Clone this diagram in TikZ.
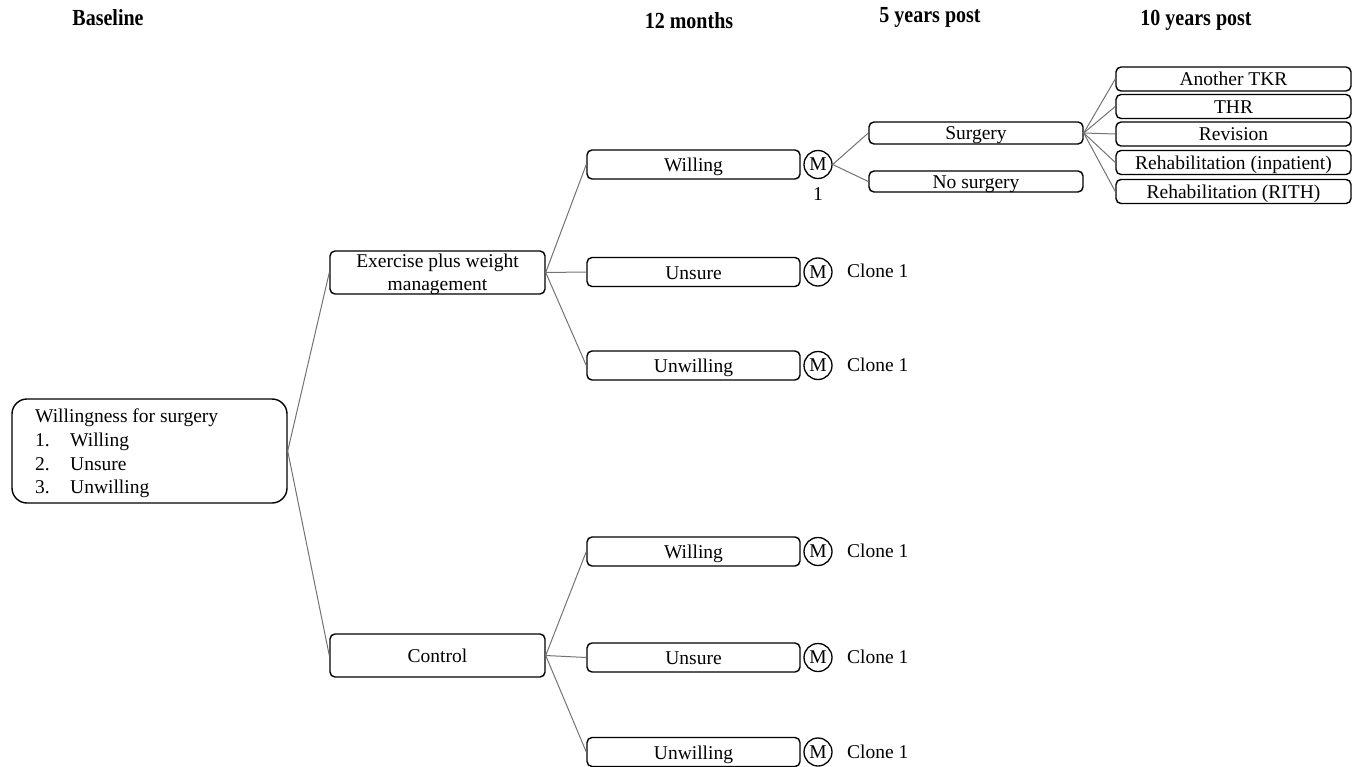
\documentclass[tikz,border=0pt]{standalone}
\usepackage{fontspec}
\setmainfont{Liberation Serif}
\begin{document}
\begin{tikzpicture}[x=1pt,y=-1pt,
  box/.style={draw=black,line width=1.4pt,rounded corners=5pt,inner sep=0pt,minimum width=213pt,minimum height=29pt,text height=15pt,text depth=1pt,font=\fontsize{19.5}{23}\selectfont},
  sbox/.style={box,minimum width=214pt,minimum height=22pt},
  tbox/.style={box,minimum width=235pt,minimum height=24pt},
  mnode/.style={draw=black,circle,line width=1.3pt,minimum size=28pt,inner sep=0pt,font=\fontsize{19.5}{23}\selectfont},
  lbl/.style={font=\fontsize{19.5}{23}\selectfont,inner sep=0pt},
  hdr/.style={font=\bfseries\fontsize{20}{24}\selectfont,inner sep=0pt},
  conn/.style={draw=black!55,line width=1pt}]
\useasboundingbox (0,0) rectangle (1364,767);
% headers
\node[hdr] (h0) at (108,18) {\scalebox{1}[1.15]{Baseline}};
\node[hdr] (h1) at (689,21) {\scalebox{1}[1.15]{12 months}};
\node[hdr] (h2) at (930,17) {\scalebox{1}[1.15]{5 years post}};
\node[hdr] (h3) at (1196,20) {\scalebox{1}[1.15]{10 years post}};
% root
\node[draw=black,line width=1.4pt,rounded corners=15pt,minimum width=275pt,minimum height=104pt,inner sep=0pt] (root) at (149.5,451) {};
\node[anchor=west,inner sep=0pt,align=left,font=\fontsize{19.5}{23.7}\selectfont] (roottext) at (35,453.5)
 {Willingness for surgery\\ \makebox[35pt][l]{1.}Willing\\ \makebox[35pt][l]{2.}Unsure\\ \makebox[35pt][l]{3.}Unwilling};
% arms
\node[box,minimum width=215pt,minimum height=43pt] (exer) at (437.5,272.5) {};
\node[inner sep=0pt,align=center,font=\fontsize{19.5}{22.5}\selectfont] (exertext) at (437.5,274.5) {Exercise plus weight\\management};
\node[box,minimum width=215pt,minimum height=43pt] (ctrl) at (437.5,655.5) {Control};
% 12 months
\node[box] (we) at (693.5,164.5) {Willing};
\node[box] (ue) at (693.5,272) {Unsure};
\node[box] (ne) at (693.5,365.5) {Unwilling};
\node[box] (wc) at (693.5,551.5) {Willing};
\node[box] (uc) at (693.5,657.5) {Unsure};
\node[box] (nc) at (693.5,752) {Unwilling};
% M nodes
\node[mnode] (m1) at (818,164.5) {M};
\node[mnode] (m2) at (818,272) {M};
\node[mnode] (m3) at (818,365.5) {M};
\node[mnode] (m4) at (818,551.5) {M};
\node[mnode] (m5) at (818,657.5) {M};
\node[mnode] (m6) at (818,752) {M};
\node[lbl] (one) at (818,194) {1};
\node[lbl,anchor=west] (c2) at (847,271) {Clone 1};
\node[lbl,anchor=west] (c3) at (847,365) {Clone 1};
\node[lbl,anchor=west] (c4) at (847,551) {Clone 1};
\node[lbl,anchor=west] (c5) at (847,657) {Clone 1};
\node[lbl,anchor=west] (c6) at (847,752) {Clone 1};
% 5 years
\node[sbox] (surg) at (976,133) {Surgery};
\node[sbox,minimum height=21pt] (nosurg) at (976,181.5) {No surgery};
% 10 years
\node[tbox] (t1) at (1233.5,79) {Another TKR};
\node[tbox] (t2) at (1233.5,106.5) {THR};
\node[tbox] (t3) at (1233.5,134) {Revision};
\node[tbox] (t4) at (1233.5,162.5) {Rehabilitation (inpatient)};
\node[tbox] (t5) at (1233.5,191.5) {Rehabilitation (RITH)};
% connectors
\draw[conn] (root.east) -- (exer.west);
\draw[conn] (root.east) -- (ctrl.west);
\foreach \t in {we,ue,ne} \draw[conn] (exer.east) -- (\t.west);
\foreach \t in {wc,uc,nc} \draw[conn] (ctrl.east) -- (\t.west);
\draw[conn] (m1.east) -- (surg.west);
\draw[conn] (m1.east) -- (nosurg.west);
\foreach \t in {t1,t2,t3,t4,t5} \draw[conn] (surg.east) -- (\t.west);
\end{tikzpicture}
\end{document}
